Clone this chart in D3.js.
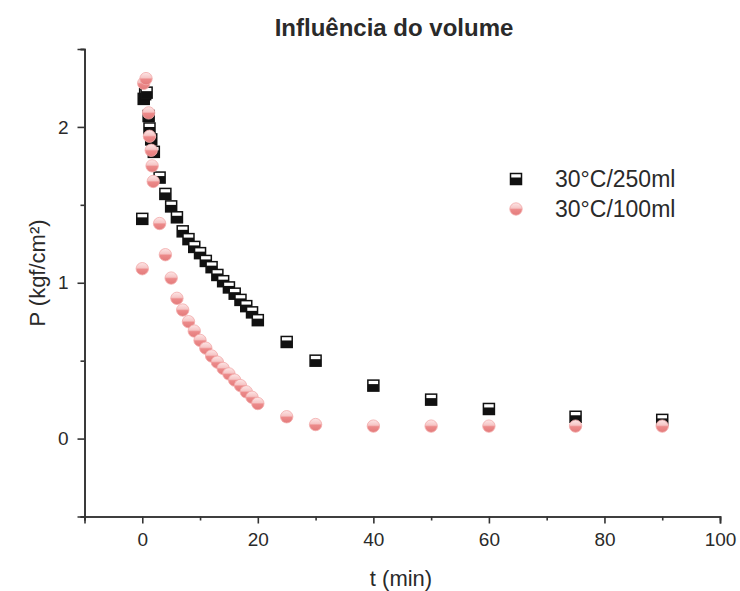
<!DOCTYPE html>
<html>
<head>
<meta charset="utf-8">
<script src="https://cdn.jsdelivr.net/npm/d3@7"></script>
<style>
  body { margin: 0; background: #fff; }
  text { font-family: "Liberation Sans", Arial, sans-serif; fill: #2a2a2a; }
</style>
</head>
<body>
<svg id="chart" width="740" height="591"></svg>
<script>
// values
const time250 = [0, 0.25, 0.5, 0.75, 1.1, 1.25, 1.55, 2, 3, 4, 5, 6, 7, 8, 9, 10, 11, 12, 13, 14, 15, 16, 17, 18, 19, 20, 25, 30, 40, 50, 60, 75, 90];
const pressure250 = [1.41, 2.18, 2.21, 2.22, 2.07, 1.99, 1.92, 1.84, 1.675, 1.57, 1.49, 1.42, 1.33, 1.28, 1.23, 1.19, 1.14, 1.10, 1.05, 1.01, 0.97, 0.93, 0.89, 0.85, 0.81, 0.76, 0.62, 0.50, 0.34, 0.25, 0.19, 0.14, 0.12];
const time100 = [0, 0.25, 0.65, 1.1, 1.25, 1.55, 1.7, 1.9, 3, 4, 5, 6, 7, 8, 9, 10, 11, 12, 13, 14, 15, 16, 17, 18, 19, 20, 25, 30, 40, 50, 60, 75, 90];
const pressure100 = [1.09, 2.28, 2.31, 2.09, 1.94, 1.85, 1.75, 1.65, 1.38, 1.18, 1.03, 0.90, 0.825, 0.75, 0.69, 0.63, 0.58, 0.53, 0.49, 0.45, 0.415, 0.375, 0.34, 0.30, 0.265, 0.225, 0.14, 0.09, 0.08, 0.08, 0.08, 0.08, 0.08];
const seriesNames = ["30°C/250ml", "30°C/100ml"];
const xMajor = [0, 20, 40, 60, 80, 100];
const xMinor = [-10, 10, 30, 50, 70, 90];
const yMajor = [0, 1, 2];
const yMinor = [-0.5, 0.5, 1.5, 2.5];

const svg = d3.select("#chart");
const x = d3.scaleLinear().domain([-10, 100]).range([84.5, 720]);
const y = d3.scaleLinear().domain([-0.5, 2.5]).range([516.5, 49]);

// gradient for the half-filled pink circles
const defs = svg.append("defs");
const grad = defs.append("linearGradient")
    .attr("id", "pink")
    .attr("x1", 0).attr("y1", 0).attr("x2", 0).attr("y2", 1);
grad.append("stop").attr("offset", "0%").attr("stop-color", "#fde6e6");
grad.append("stop").attr("offset", "42%").attr("stop-color", "#f6c6c6");
grad.append("stop").attr("offset", "55%").attr("stop-color", "#ec8a8a");
grad.append("stop").attr("offset", "100%").attr("stop-color", "#e37b7b");

// axes
const styleAxis = (g) => {
    g.select(".domain").attr("stroke", "#333").attr("stroke-width", 1.6);
    g.selectAll(".tick line").attr("stroke", "#333").attr("stroke-width", 1.6);
    g.selectAll(".tick text").style("font-size", "19px").attr("fill", "#2a2a2a");
};

svg.append("g")
    .attr("transform", `translate(0,${y(-0.5)})`)
    .call(d3.axisBottom(x).tickValues(xMinor).tickSize(4).tickFormat(""))
    .call(styleAxis);
svg.append("g")
    .attr("transform", `translate(0,${y(-0.5)})`)
    .call(d3.axisBottom(x).tickValues(xMajor).tickSize(7).tickPadding(9).tickFormat(d3.format("d")))
    .call(styleAxis);

svg.append("g")
    .attr("transform", `translate(${x(-10)},0)`)
    .call(d3.axisLeft(y).tickValues(yMinor).tickSize(4).tickFormat(""))
    .call(styleAxis);
svg.append("g")
    .attr("transform", `translate(${x(-10)},0)`)
    .call(d3.axisLeft(y).tickValues(yMajor).tickSize(7).tickPadding(9).tickFormat(d3.format("d")))
    .call(styleAxis);

// markers
const drawSquare = (g) => {
    g.append("rect")
        .attr("x", -5.5).attr("y", -5.5).attr("width", 11).attr("height", 11)
        .attr("fill", "#fff").attr("stroke", "#111").attr("stroke-width", 1.5);
    g.append("rect")
        .attr("x", -5.5).attr("y", -1.5).attr("width", 11).attr("height", 7)
        .attr("fill", "#111");
};
const drawCircle = (g) => {
    g.append("circle")
        .attr("r", 6.2)
        .attr("fill", "url(#pink)")
        .attr("stroke", "#f2a9a9").attr("stroke-width", 0.8);
};

const data250 = time250.map((t, i) => ({t, p: pressure250[i]}));
const data100 = time100.map((t, i) => ({t, p: pressure100[i]}));

svg.append("g").selectAll("g")
    .data(data250)
    .join("g")
    .attr("transform", (d) => `translate(${x(d.t)},${y(d.p)})`)
    .each(function () { drawSquare(d3.select(this)); });

svg.append("g").selectAll("g")
    .data(data100)
    .join("g")
    .attr("transform", (d) => `translate(${x(d.t)},${y(d.p)})`)
    .each(function () { drawCircle(d3.select(this)); });

// legend
const legend = svg.append("g");
const rows = legend.selectAll("g")
    .data(seriesNames)
    .join("g")
    .attr("transform", (d, i) => `translate(516,${179 + i * 30})`);
rows.each(function (d, i) {
    const g = d3.select(this);
    if (i === 0) drawSquare(g); else drawCircle(g);
});
rows.append("text")
    .attr("x", 39)
    .attr("dy", "0.36em")
    .style("font-size", "23px")
    .text((d) => d);

// titles
svg.append("text")
    .attr("x", 394).attr("y", 36)
    .attr("text-anchor", "middle")
    .style("font-size", "24px").style("font-weight", "bold")
    .attr("fill", "#111")
    .text("Influência do volume");

svg.append("text")
    .attr("x", 401).attr("y", 586)
    .attr("text-anchor", "middle")
    .style("font-size", "22px")
    .text("t (min)");

svg.append("text")
    .attr("transform", "translate(45,273) rotate(-90)")
    .attr("text-anchor", "middle")
    .style("font-size", "22px")
    .text("P (kgf/cm²)");
</script>
</body>
</html>
